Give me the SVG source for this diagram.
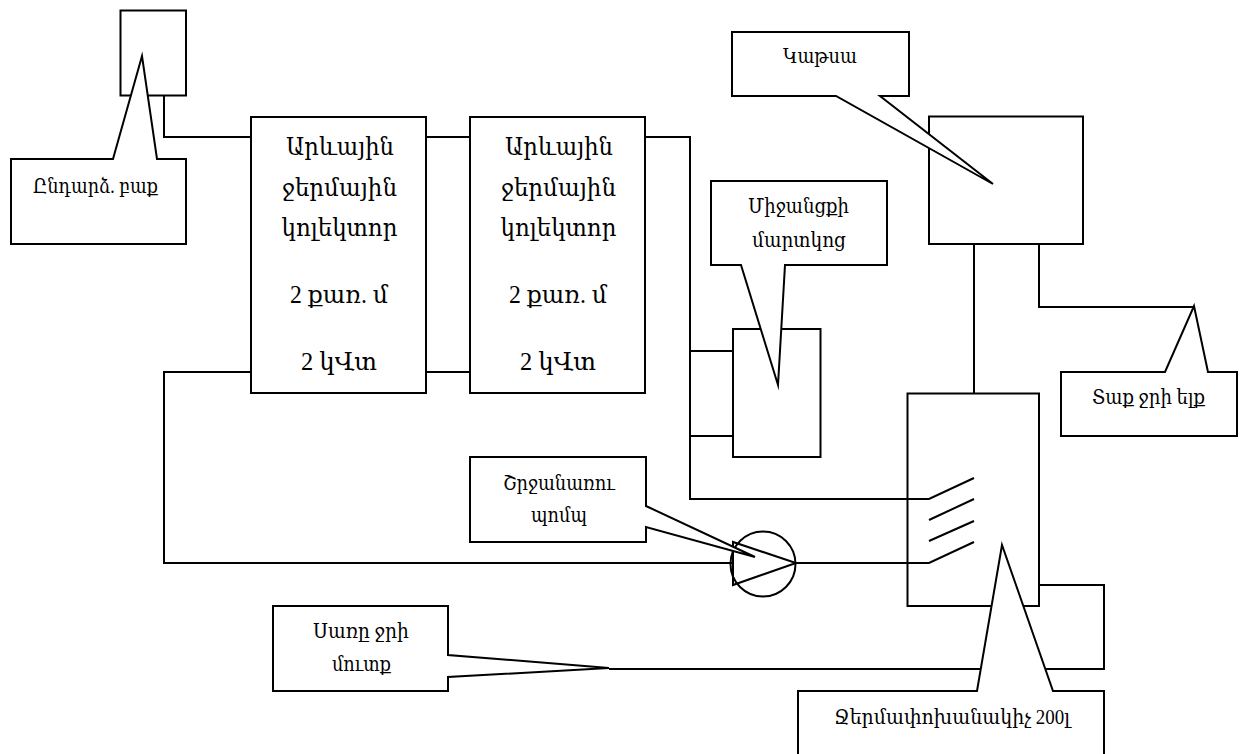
<svg xmlns="http://www.w3.org/2000/svg" width="1242" height="754" viewBox="0 0 1242 754">
<style>
.s{fill:#fff;stroke:#000;stroke-width:2;stroke-miterlimit:10}
.l{fill:none;stroke:#000;stroke-width:2;stroke-miterlimit:10}
text{font-family:"Liberation Serif","DejaVu Serif",serif;fill:#000;text-anchor:middle}
.b{font-size:25px}
.m{font-size:20px}
</style>
<rect width="1242" height="754" fill="#fff"/>
<g id="connectors">
<path class="l" d="M164 96V137H251"/>
<path class="l" d="M426 137H470M426 372H470"/>
<path class="l" d="M645 137H690V499H929L974 478"/>
<path class="l" d="M690 351H733M690 436H733"/>
<path class="l" d="M929 520L974 499M929 541L974 521"/>
<path class="l" d="M251 372H164V563H733"/>
<path class="l" d="M796 563H929L974 542"/>
<path class="l" d="M974 244V393"/>
<path class="l" d="M1039 244V307H1194"/>
<path class="l" d="M609 669H1104V585H1039"/>
</g>
<g id="expansion-tank"><rect class="l" x="120.500" y="10.500" width="65.500" height="85"/></g>
<g id="collector-1"><rect class="s" x="251" y="117" width="175" height="276"/>
<text class="b" x="340" y="155" textLength="108" lengthAdjust="spacingAndGlyphs">Արևային</text><text class="b" x="339.500" y="196" textLength="115" lengthAdjust="spacingAndGlyphs">ջերմային</text><text class="b" x="339.500" y="236" textLength="116" lengthAdjust="spacingAndGlyphs">կոլեկտոր</text><text class="b" x="339" y="303" textLength="98" lengthAdjust="spacingAndGlyphs">2 քառ. մ</text><text class="b" x="339" y="370" textLength="76" lengthAdjust="spacingAndGlyphs">2 կՎտ</text></g>
<g id="collector-2"><rect class="s" x="470" y="117" width="175" height="276"/>
<text class="b" x="559" y="155" textLength="108" lengthAdjust="spacingAndGlyphs">Արևային</text><text class="b" x="558.500" y="196" textLength="115" lengthAdjust="spacingAndGlyphs">ջերմային</text><text class="b" x="558.500" y="236" textLength="116" lengthAdjust="spacingAndGlyphs">կոլեկտոր</text><text class="b" x="558" y="303" textLength="98" lengthAdjust="spacingAndGlyphs">2 քառ. մ</text><text class="b" x="558" y="370" textLength="76" lengthAdjust="spacingAndGlyphs">2 կՎտ</text></g>
<g id="buffer"><rect class="l" x="733" y="329" width="87.500" height="128"/></g>
<g id="boiler"><rect class="l" x="929" y="116.500" width="154" height="127.500"/></g>
<g id="heat-exchanger"><rect class="l" x="907.500" y="393.500" width="131.500" height="212.500"/></g>
<g id="pump"><circle class="l" cx="763" cy="564" r="32.500"/><path class="l" d="M733 542V585L796 563Z"/></g>
<g id="callout-expansion"><path class="s" d="M11 159H113L142 56L157 159H186V244H11Z"/><text class="m" x="95.500" y="193" textLength="125" lengthAdjust="spacingAndGlyphs">Ընդարձ. բաք</text></g>
<g id="callout-boiler"><path class="s" d="M732 32H909V96H880L993 184L836 96H732Z"/><text class="m" x="820" y="63" textLength="74" lengthAdjust="spacingAndGlyphs">Կաթսա</text></g>
<g id="callout-buffer"><path class="s" d="M711 181H887V265H785L778 385L741 265H711Z"/><text class="m" x="798.500" y="213" textLength="101" lengthAdjust="spacingAndGlyphs">Միջանցքի</text><text class="m" x="799" y="247" textLength="94" lengthAdjust="spacingAndGlyphs">մարտկոց</text></g>
<g id="callout-hot"><path class="s" d="M1061 372H1165L1194 306L1208 372H1237V436H1061Z"/><text class="m" x="1148.500" y="404" textLength="113" lengthAdjust="spacingAndGlyphs">Տաք ջրի ելք</text></g>
<g id="callout-pump"><path class="s" d="M470 457H646V506L755 557L646 527V542H470Z"/><text class="m" x="559" y="489.500" textLength="112" lengthAdjust="spacingAndGlyphs">Շրջանառու</text><text class="m" x="559" y="522" textLength="56" lengthAdjust="spacingAndGlyphs">պոմպ</text></g>
<g id="callout-cold"><path class="s" d="M273 606H448V655L609 668L448 677V691H273Z"/><text class="m" x="361" y="638" textLength="96" lengthAdjust="spacingAndGlyphs">Սառը ջրի</text><text class="m" x="361.500" y="671" textLength="59" lengthAdjust="spacingAndGlyphs">մուտք</text></g>
<g id="callout-exchanger"><path class="s" d="M798 691H977L1002 545L1053 691H1104V755H798Z"/><text class="m" x="952" y="724" textLength="236" lengthAdjust="spacingAndGlyphs">Ջերմափոխանակիչ 200լ</text></g>
</svg>
